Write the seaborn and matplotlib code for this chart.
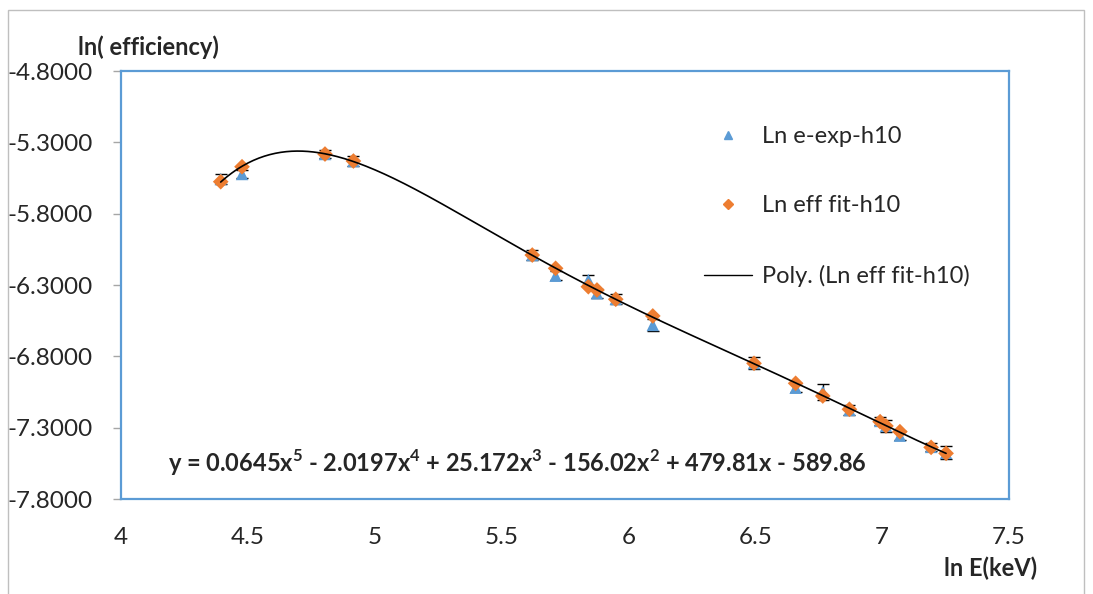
import numpy as np
import pandas as pd
import matplotlib
matplotlib.use("Agg")
import matplotlib.pyplot as plt
import seaborn as sns
from matplotlib.lines import Line2D
from matplotlib.patches import Rectangle
from matplotlib.ticker import FormatStrFormatter, FuncFormatter

# ln of gamma energy (keV)
ln_energy = [4.393, 4.477, 4.804, 4.916, 5.621, 5.713, 5.842, 5.876, 5.950, 6.096,
             6.495, 6.659, 6.766, 6.871, 6.992, 7.015, 7.070, 7.193, 7.252]
# measured ln(efficiency)
ln_eff_exp = [-5.557, -5.522, -5.382, -5.431, -6.090, -6.235, -6.265, -6.358, -6.398, -6.580,
              -6.847, -7.020, -7.048, -7.176, -7.253, -7.288, -7.356, -7.435, -7.477]
# uncertainty of the measured values
ln_eff_err = [0.035, 0.030, 0.030, 0.032, 0.035, 0.030, 0.035, 0.030, 0.035, 0.045,
              0.045, 0.030, 0.055, 0.035, 0.030, 0.045, 0.030, 0.030, 0.045]
# fitted ln(efficiency)
ln_eff_fit = [-5.576, -5.471, -5.382, -5.431, -6.090, -6.183, -6.312, -6.335, -6.400, -6.517,
              -6.849, -6.989, -7.078, -7.171, -7.258, -7.288, -7.328, -7.438, -7.480]

y_ticks = [-7.8, -7.3, -6.8, -6.3, -5.8, -5.3, -4.8]
x_ticks = [4, 4.5, 5, 5.5, 6, 6.5, 7, 7.5]
equation = ("y = 0.0645x$^{\\mathbf{5}}$ - 2.0197x$^{\\mathbf{4}}$ + 25.172x$^{\\mathbf{3}}$"
            " - 156.02x$^{\\mathbf{2}}$ + 479.81x - 589.86")

BLUE = "#5B9BD5"
ORANGE = "#ED7D31"
FS = 17

sns.set_style("white")
plt.rcParams["font.family"] = ["Lato", "DejaVu Sans"]
plt.rcParams["mathtext.fontset"] = "custom"
plt.rcParams["mathtext.rm"] = "Lato"
plt.rcParams["mathtext.bf"] = "Lato:bold"

df = pd.DataFrame({"lnE": ln_energy, "exp": ln_eff_exp, "fit": ln_eff_fit, "err": ln_eff_err})

fig = plt.figure(figsize=(10.93, 5.94), dpi=100)
fig.patches.append(Rectangle((8 / 1093, -0.1), 1076 / 1093, 1.1 - 10 / 594,
                             transform=fig.transFigure, fill=False,
                             edgecolor="#BFBFBF", linewidth=1.0))
ax = fig.add_axes([121 / 1093, 1 - 499 / 594, 888 / 1093, 428 / 594])

ax.errorbar(df["lnE"], df["exp"], yerr=df["err"], fmt="none", ecolor="black",
            elinewidth=1.0, capsize=4.5, capthick=1.0, zorder=2)
sns.scatterplot(data=df, x="lnE", y="exp", marker="^", s=80, color=BLUE,
                edgecolor="none", ax=ax, zorder=3, legend=False)
sns.scatterplot(data=df, x="lnE", y="fit", marker="D", s=64, color=ORANGE,
                edgecolor="none", ax=ax, zorder=4, legend=False)

# fifth-order polynomial trendline through the fitted values
coef = np.polyfit(df["lnE"], df["fit"], 5)
xs = np.linspace(min(ln_energy), max(ln_energy), 400)
sns.lineplot(x=xs, y=np.polyval(coef, xs), color="black", linewidth=1.2, ax=ax, zorder=5)

ax.set_xlim(4, 7.5)
ax.set_ylim(-7.8, -4.8)
ax.set_xticks(x_ticks)
ax.set_yticks(y_ticks)
ax.xaxis.set_major_formatter(FuncFormatter(lambda v, p: f"{v:g}"))
ax.yaxis.set_major_formatter(FormatStrFormatter("%.4f"))
ax.tick_params(axis="y", length=5.8, width=1, color="#A6A6A6", pad=14.4, labelsize=17.5, left=True)
ax.tick_params(axis="x", length=0, pad=20, labelsize=17.5)
ax.set_xlabel("")
ax.set_ylabel("")
for sp in ax.spines.values():
    sp.set_color(BLUE)
    sp.set_linewidth(1.6)
    sp.set_visible(True)

fig.text(148 / 1093, 1 - 47 / 594, "ln( efficiency)", fontsize=FS, fontweight="bold",
         ha="center", va="center")
fig.text(991 / 1093, 1 - 568 / 594, "ln E(keV)", fontsize=FS, fontweight="bold",
         ha="center", va="center")
ax.text(168 / 1093, 1 - 463 / 594, equation, transform=fig.transFigure, fontsize=FS,
        fontweight="bold", ha="left", va="center")

handles = [
    Line2D([], [], marker="^", linestyle="none", color=BLUE, markersize=6),
    Line2D([], [], marker="D", linestyle="none", color=ORANGE, markersize=5),
    Line2D([], [], color="black", linewidth=1.0),
]
labels = ["Ln e-exp-h10", "Ln eff fit-h10", "Poly. (Ln eff fit-h10)"]
fig.legend(handles, labels, loc="upper left", bbox_to_anchor=(704 / 1093, 1 - 126 / 594),
           frameon=False, fontsize=FS, labelspacing=2.05, handlelength=2.03,
           handletextpad=0.42, borderpad=0, borderaxespad=0)

fig.savefig("out.png", dpi=100)
